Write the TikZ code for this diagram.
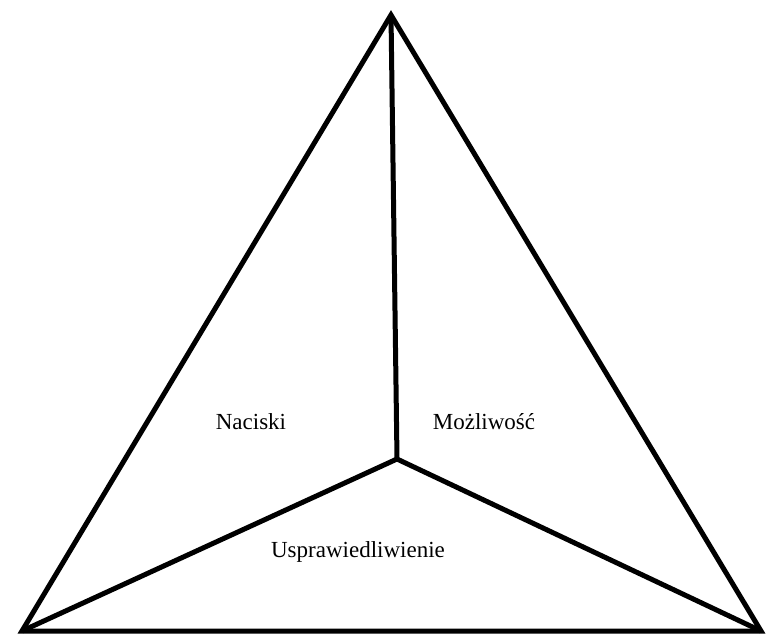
\documentclass[tikz,border=0pt]{standalone}
\usepackage{fontspec}
\setmainfont{Liberation Serif}
\begin{document}
\begin{tikzpicture}[x=1pt,y=-1pt,
  edge/.style={line width=5pt,line join=miter,black},
  lbl/.style={font=\fontsize{23}{27}\selectfont,inner sep=0pt}]
\useasboundingbox (0,0) rectangle (766,635);
\coordinate (A) at (391,15);
\coordinate (L) at (22,631);
\coordinate (R) at (761,631);
\coordinate (M) at (397,459);
\draw[edge] (A) -- (L) -- (R) -- cycle;
\draw[edge] (A) -- (M);
\draw[edge] (L) -- (M) -- (R);
\node[lbl] (n1) at (251,422) {Naciski};
\node[lbl] (n2) at (484,422) {Możliwość};
\node[lbl] (n3) at (358,552) {Usprawiedliwienie};
\end{tikzpicture}
\end{document}
